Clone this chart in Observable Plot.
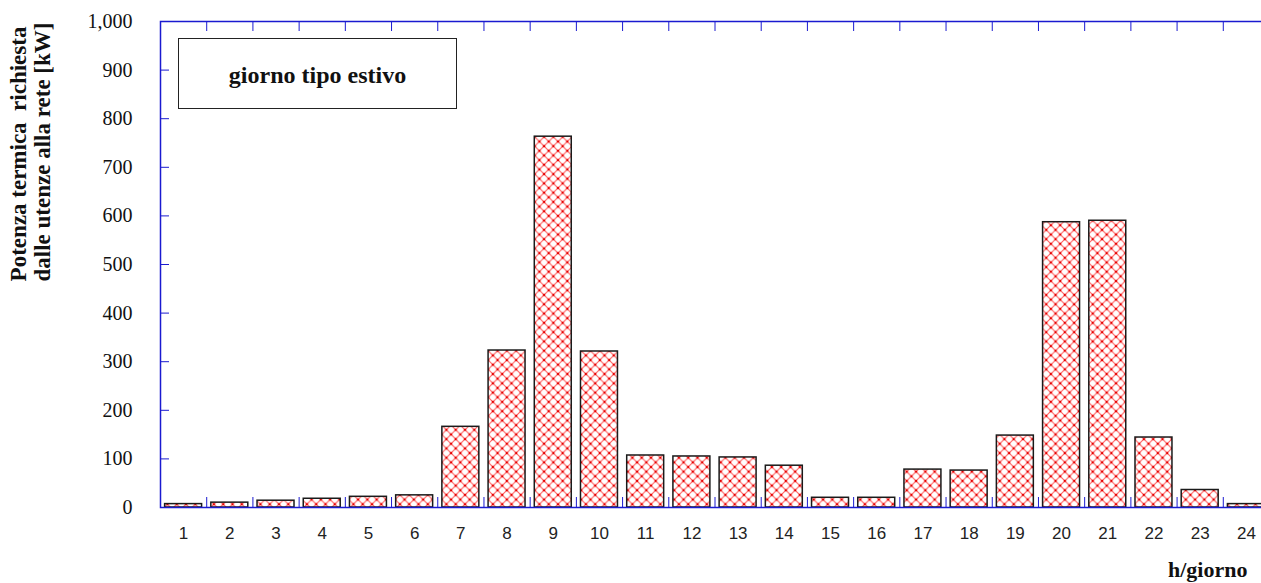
<!DOCTYPE html>
<html>
<head>
<meta charset="utf-8">
<script src="https://cdn.jsdelivr.net/npm/d3@7"></script>
<script src="https://cdn.jsdelivr.net/npm/@observablehq/plot@0.6"></script>
<style>
  html, body { margin: 0; padding: 0; background: #fff; overflow: hidden; }
  #chart { position: relative; width: 1261px; height: 583px; overflow: hidden; }
  #chart svg { max-width: none !important; }
  #legend {
    position: absolute; left: 178px; top: 38px; width: 279px; height: 71px;
    border: 1px solid #222; box-sizing: border-box; background: #fff;
    display: flex; align-items: center; justify-content: center; padding-top: 4px;
    font-family: "Liberation Serif", serif; font-weight: bold; font-size: 24px; color: #111;
  }
</style>
</head>
<body>
<div id="chart"><div id="legend">giorno tipo estivo</div></div>
<script>
const hours = [1,2,3,4,5,6,7,8,9,10,11,12,13,14,15,16,17,18,19,20,21,22,23,24];
const power = [7,10,14,18,22,25,166,323,763,321,107,105,103,86,20,20,78,76,148,587,590,144,36,7];
const yTicks = [0,100,200,300,400,500,600,700,800,900,1000];
const boundaries = [0.5,1.5,2.5,3.5,4.5,5.5,6.5,7.5,8.5,9.5,10.5,11.5,12.5,13.5,14.5,15.5,16.5,17.5,18.5,19.5,20.5,21.5,22.5,23.5,24.5];
const yTitle = ["Potenza termica  richiesta", "dalle utenze alla rete [kW]"];
const xTitle = "h/giorno";

const data = hours.map((h, i) => ({h, v: power[i]}));
const blue = "#1a1ad0";
const serif = "Liberation Serif";
const sans = "Liberation Sans";
const fmt = d3.format(",");

const svg = Plot.plot({
  width: 1270,
  height: 583,
  marginLeft: 160,
  marginRight: 1,
  marginTop: 21,
  marginBottom: 76,
  style: {background: "transparent", overflow: "visible", maxWidth: "none"},
  x: {type: "linear", domain: [0.5, 24.5]},
  y: {domain: [0, 1000]},
  marks: [
    Plot.rectY(data, {x1: d => d.h - 0.4, x2: d => d.h + 0.4, y: "v", fill: "url(#xhatch)", stroke: "#1a1a1a", strokeWidth: 1.5}),
    Plot.frame({stroke: blue, strokeWidth: 1.5}),
    Plot.axisY(yTicks, {tickSize: -9, tickFormat: () => "", stroke: blue, label: null}),
    Plot.text(yTicks, {y: d => d, text: d => fmt(d), frameAnchor: "left", textAnchor: "end", dx: -28, fontFamily: serif, fontSize: 20, fill: "#111"}),
    Plot.axisX(boundaries, {tickSize: -10, tickFormat: () => "", stroke: blue, label: null}),
    Plot.axisX(boundaries, {anchor: "top", tickSize: -9, tickFormat: () => "", stroke: blue, label: null}),
    Plot.text(hours, {x: d => d, text: d => String(d), frameAnchor: "bottom", lineAnchor: "middle", dy: 26, fontFamily: sans, fontSize: 17, fill: "#222"})
  ]
});

const s = d3.select(svg);
s.attr("width", 1270).style("max-width", "none");

// hatch pattern
const defs = s.insert("defs", ":first-child");
const p = 9.3, r = 1.1;
const pat = defs.append("pattern").attr("id", "xhatch").attr("patternUnits", "userSpaceOnUse")
  .attr("width", p).attr("height", p).attr("x", 0).attr("y", 2);
pat.append("rect").attr("width", p).attr("height", p).attr("fill", "#fff");
pat.append("path").attr("d", `M0,0L${p},${p}M${p},0L0,${p}`).attr("stroke", "#ff5a5a").attr("stroke-width", 1.1).attr("fill", "none");
[[p/2, p/2], [0, 0], [p, 0], [0, p], [p, p]].forEach(([cx, cy]) =>
  pat.append("rect").attr("x", cx - r).attr("y", cy - r).attr("width", 2 * r).attr("height", 2 * r).attr("fill", "#e60000"));

// titles
const g = s.append("g").attr("font-family", serif).attr("font-weight", "bold").attr("font-size", 23).attr("fill", "#111").attr("text-anchor", "middle");
g.append("text").attr("transform", "translate(26,154) rotate(-90)").text(yTitle[0]);
g.append("text").attr("transform", "translate(50,152) rotate(-90)").text(yTitle[1]);
s.append("text").attr("x", 1168).attr("y", 577).attr("text-anchor", "start").attr("font-family", serif).attr("font-weight", "bold").attr("font-size", 22).attr("fill", "#111").text(xTitle);

svg.style.position = "absolute";
svg.style.left = "0";
svg.style.top = "0";
document.getElementById("chart").prepend(svg);
</script>
</body>
</html>
